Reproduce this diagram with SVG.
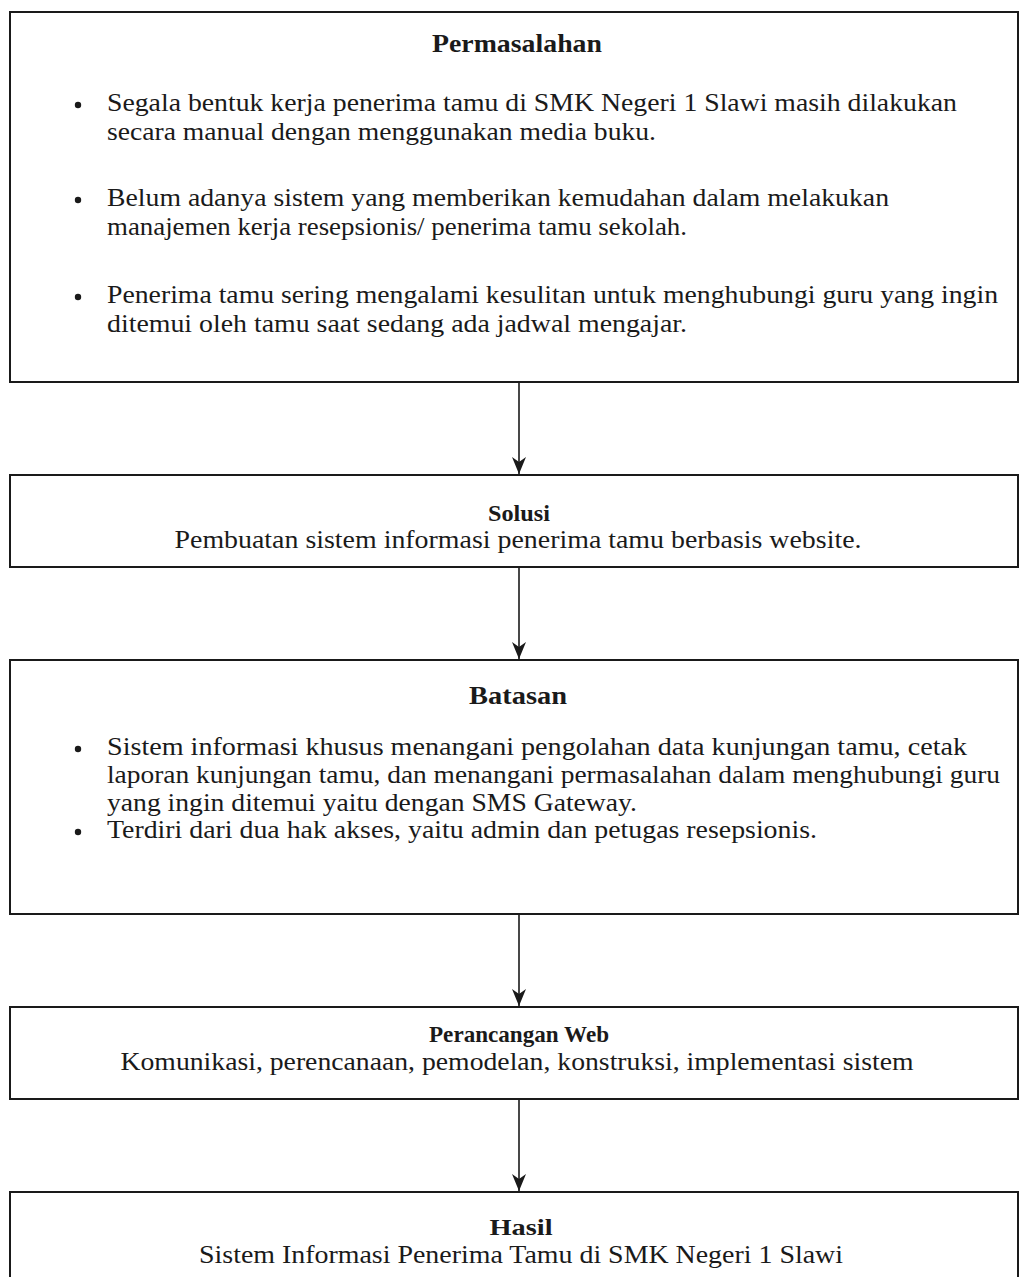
<svg xmlns="http://www.w3.org/2000/svg" width="1019" height="1277" viewBox="0 0 1019 1277">
<style>
.box{fill:#fff;stroke:#1a1a1a;stroke-width:2}
.t{font-family:"Liberation Serif","Times New Roman",serif;font-size:25px;fill:#1a1a1a}
.h{font-size:24px}
.b{font-weight:bold;text-anchor:middle}
.c{text-anchor:middle}
.bul{fill:#1a1a1a}
.edge{stroke:#1a1a1a;stroke-width:1.6;fill:none}
</style>
<defs>
<marker id="arr" markerUnits="userSpaceOnUse" viewBox="0 0 17 14" refX="17" refY="7" markerWidth="17" markerHeight="14" orient="auto">
<path d="M0,0 L17,7 L0,14 L5,7 Z" fill="#1a1a1a"/>
</marker>
</defs>
<rect width="1019" height="1277" fill="#fff"/>
<g id="permasalahan">
<rect class="box" x="10" y="12" width="1008" height="370"/>
<text class="t b" x="517" y="52" textLength="170" lengthAdjust="spacingAndGlyphs">Permasalahan</text>
<circle class="bul" cx="78" cy="105" r="3.2"/>
<text class="t" x="107" y="111" textLength="850" lengthAdjust="spacingAndGlyphs">Segala bentuk kerja penerima tamu di SMK Negeri 1 Slawi masih dilakukan</text>
<text class="t" x="107" y="140" textLength="549" lengthAdjust="spacingAndGlyphs">secara manual dengan menggunakan media buku.</text>
<circle class="bul" cx="78" cy="200" r="3.2"/>
<text class="t" x="107" y="206" textLength="782" lengthAdjust="spacingAndGlyphs">Belum adanya sistem yang memberikan kemudahan dalam melakukan</text>
<text class="t" x="107" y="235" textLength="580" lengthAdjust="spacingAndGlyphs">manajemen kerja resepsionis/ penerima tamu sekolah.</text>
<circle class="bul" cx="78" cy="297" r="3.2"/>
<text class="t" x="107" y="303" textLength="891" lengthAdjust="spacingAndGlyphs">Penerima tamu sering mengalami kesulitan untuk menghubungi guru yang ingin</text>
<text class="t" x="107" y="332" textLength="580" lengthAdjust="spacingAndGlyphs">ditemui oleh tamu saat sedang ada jadwal mengajar.</text>
</g>
<g id="solusi">
<rect class="box" x="10" y="475" width="1008" height="92"/>
<text class="t b h" x="519" y="521" textLength="62" lengthAdjust="spacingAndGlyphs">Solusi</text>
<text class="t c" x="518" y="548" textLength="687" lengthAdjust="spacingAndGlyphs">Pembuatan sistem informasi penerima tamu berbasis website.</text>
</g>
<g id="batasan">
<rect class="box" x="10" y="660" width="1008" height="254"/>
<text class="t b" x="518" y="704" textLength="98" lengthAdjust="spacingAndGlyphs">Batasan</text>
<circle class="bul" cx="78" cy="749" r="3.2"/>
<text class="t" x="107" y="755" textLength="860" lengthAdjust="spacingAndGlyphs">Sistem informasi khusus menangani pengolahan data kunjungan tamu, cetak</text>
<text class="t" x="107" y="783" textLength="893" lengthAdjust="spacingAndGlyphs">laporan kunjungan tamu, dan menangani permasalahan dalam menghubungi guru</text>
<text class="t" x="107" y="811" textLength="530" lengthAdjust="spacingAndGlyphs">yang ingin ditemui yaitu dengan SMS Gateway.</text>
<circle class="bul" cx="78" cy="832" r="3.2"/>
<text class="t" x="107" y="838" textLength="710" lengthAdjust="spacingAndGlyphs">Terdiri dari dua hak akses, yaitu admin dan petugas resepsionis.</text>
</g>
<g id="perancangan">
<rect class="box" x="10" y="1007" width="1008" height="92"/>
<text class="t b h" x="519" y="1042" textLength="180" lengthAdjust="spacingAndGlyphs">Perancangan Web</text>
<text class="t c" x="517" y="1070" textLength="793" lengthAdjust="spacingAndGlyphs">Komunikasi, perencanaan, pemodelan, konstruksi, implementasi sistem</text>
</g>
<g id="hasil">
<rect class="box" x="10" y="1192" width="1008" height="100"/>
<text class="t b h" x="521" y="1235" textLength="63" lengthAdjust="spacingAndGlyphs">Hasil</text>
<text class="t c" x="521" y="1263" textLength="644" lengthAdjust="spacingAndGlyphs">Sistem Informasi Penerima Tamu di SMK Negeri 1 Slawi</text>
</g>
<g id="connectors">
<path class="edge" d="M519,383 V474" marker-end="url(#arr)"/>
<path class="edge" d="M519,568 V659" marker-end="url(#arr)"/>
<path class="edge" d="M519,915 V1006" marker-end="url(#arr)"/>
<path class="edge" d="M519,1100 V1191" marker-end="url(#arr)"/>
</g>
</svg>
